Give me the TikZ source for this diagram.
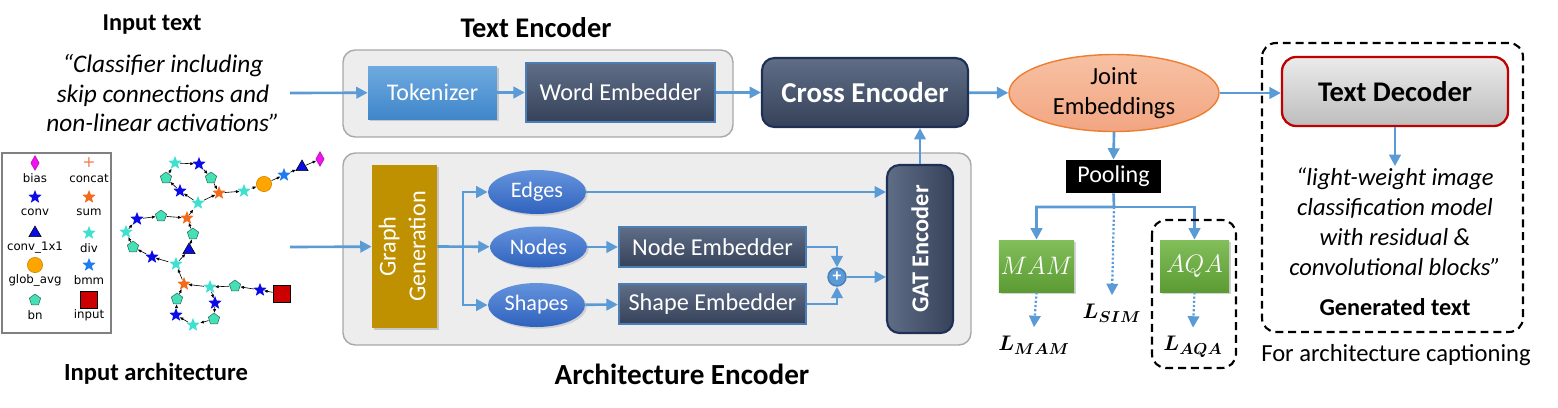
\documentclass[tikz,border=0pt]{standalone}
\usepackage{fontspec}
\setmainfont{Carlito}
\newfontfamily\legendfont{DejaVu Sans}
\usepackage{graphicx}
\usepackage{bm}
\usetikzlibrary{arrows.meta,shapes.geometric,shadows}
\tikzset{>={Triangle[length=6.5pt,width=6.5pt]}}

\definecolor{arrowblue}{HTML}{5B9BD5}
\definecolor{panelgray}{HTML}{EDEDED}
\definecolor{panelline}{HTML}{A8A8A8}
\definecolor{darktop}{HTML}{5F6D86}
\definecolor{darkbot}{HTML}{36425A}
\definecolor{embline}{HTML}{4A7EB5}
\definecolor{navyline}{HTML}{1F2F55}
\definecolor{toktop}{HTML}{6FAAE0}
\definecolor{tokbot}{HTML}{3F86CA}
\definecolor{ovaltop}{HTML}{6493DC}
\definecolor{ovalbot}{HTML}{2F62BE}
\definecolor{gold}{HTML}{BF9000}
\definecolor{jointtop}{HTML}{F7C1A3}
\definecolor{jointbot}{HTML}{F2A582}
\definecolor{jointline}{HTML}{ED7D31}
\definecolor{greentop}{HTML}{82BE5A}
\definecolor{greenbot}{HTML}{5C9B34}
\definecolor{dectop}{HTML}{EBEBEB}
\definecolor{decbot}{HTML}{BDBDBD}
\definecolor{decline}{HTML}{C00000}
% graph marker colours
\definecolor{cconv}{HTML}{0B0BE6}
\definecolor{cdiv}{HTML}{40E0D0}
\definecolor{csum}{HTML}{F26B1D}
\definecolor{cbn}{HTML}{45E0B5}
\definecolor{cbnline}{HTML}{2A6B5C}
\definecolor{cbmm}{HTML}{1F7BF2}
\definecolor{cglob}{HTML}{FFA500}
\definecolor{cglobline}{HTML}{C88000}
\definecolor{cbias}{HTML}{F012F0}
\definecolor{cinput}{HTML}{CC0000}
\definecolor{cconcat}{HTML}{F47A50}

\tikzset{
  flow/.style={->, draw=arrowblue, line width=1.5pt},
  dotflow/.style={->, draw=arrowblue, line width=1.3pt, dash pattern=on 1.2pt off 1.2pt},
  panel/.style={fill=panelgray, draw=panelline, line width=0.8pt, rounded corners=7pt},
  dashbox/.style={draw, line width=1.2pt, rounded corners=8pt, dash pattern=on 4.5pt off 2.8pt},
  title/.style={font=\bfseries\fontsize{16.2}{19}\selectfont},
  headtxt/.style={font=\bfseries\fontsize{13.8}{16}\selectfont},
  plaintxt/.style={font=\fontsize{14}{16}\selectfont},
  quote/.style={font=\itshape\fontsize{14.4}{17}\selectfont, align=center, inner sep=1pt},
  tokbox/.style={rectangle, top color=toktop, bottom color=tokbot, text=white,
    font=\fontsize{13.6}{16}\selectfont, minimum width=2.58cm, minimum height=1.06cm,
    drop shadow={opacity=0.35, shadow xshift=1.2pt, shadow yshift=-1.2pt}},
  embbox/.style={rectangle, top color=darktop, bottom color=darkbot, draw=embline,
    line width=1.3pt, text=white, font=\fontsize{13.8}{16}\selectfont},
  encbox/.style={rectangle, rounded corners=7pt, top color=darktop, bottom color=darkbot,
    draw=navyline, line width=1.2pt, text=white},
  ovalbox/.style={ellipse, top color=ovaltop, bottom color=ovalbot, text=white, inner sep=0pt,
    font=\fontsize{12.6}{15}\selectfont,
    drop shadow={opacity=0.25, shadow xshift=1pt, shadow yshift=-1pt}},
  greenbox/.style={rectangle, top color=greentop, bottom color=greenbot, text=white, inner sep=1pt,
    minimum width=1.5cm, minimum height=1.04cm, font=\fontsize{14}{17}\selectfont,
    drop shadow={opacity=0.35, shadow xshift=1.2pt, shadow yshift=-1.2pt}},
  loss/.style={font=\fontsize{13}{15}\selectfont, inner sep=1pt, outer sep=4pt},
  % graph markers
  mconv/.style={star, star points=5, star point ratio=2.3, fill=cconv, minimum size=8pt, inner sep=0pt},
  mdiv/.style={mconv, fill=cdiv},
  msum/.style={mconv, fill=csum},
  mbmm/.style={mconv, fill=cbmm},
  mbn/.style={regular polygon, regular polygon sides=5, fill=cbn, draw=cbnline, line width=0.3pt, minimum size=6.8pt, inner sep=0pt},
  mcvone/.style={regular polygon, regular polygon sides=3, fill=cconv, draw=black, line width=0.3pt, minimum size=8pt, inner sep=0pt},
  mglob/.style={circle, fill=cglob, draw=cglobline, line width=0.3pt, minimum size=8.7pt, inner sep=0pt},
  mbias/.style={diamond, fill=cbias, draw=cbias!70!black, line width=0.3pt, minimum width=4.8pt, minimum height=8.4pt, inner sep=0pt},
  minput/.style={rectangle, fill=cinput, draw=black, line width=0.5pt, minimum size=9.6pt, inner sep=0pt},
  gedge/.style={-{Latex[length=2.2pt,width=1.8pt]}, line width=0.35pt, shorten <=0.3pt},
  legtxt/.style={font=\legendfont\fontsize{6.7}{8}\selectfont, inner sep=0pt}
}

\begin{document}
\begin{tikzpicture}[x=0.02cm,y=-0.02cm]
\useasboundingbox (0,0) rectangle (1558,407);

% encoder panels
\draw[panel] (343,50) rectangle (733,137);
\draw[panel] (343,153) rectangle (971,345);
\node[title] (tenctitle) at (536,28) {Text Encoder};
\node[title,font=\bfseries\fontsize{16.6}{19}\selectfont] (aenctitle) at (682,374) {Architecture Encoder};

% input text
\node[headtxt] (intitle) at (152,25) {Input text};
\node[quote] (inquote) at (163,93) {“Classifier including\\skip connections and\\non-linear activations”};
\coordinate (txtin) at (290,93);

% text encoder
\node[tokbox] (tok) at (432.5,92.5) {Tokenizer};
\node[embbox, minimum width=3.78cm, minimum height=1.18cm] (wemb) at (620.5,92.5) {Word Embedder};
\node[encbox, minimum width=4.12cm, minimum height=1.38cm, font=\bfseries\fontsize{16.4}{19}\selectfont] (cross) at (865,92.5) {Cross Encoder};

\draw[flow] (txtin) -- (tok);
\draw[flow] (tok) -- (wemb);
\draw[flow] (wemb) -- (cross);

% architecture encoder
\node[rectangle, fill=gold, text=white, minimum width=1.3cm, minimum height=3.26cm, inner sep=0pt,
  font=\fontsize{13.8}{17}\selectfont,
  drop shadow={opacity=0.35, shadow xshift=1.2pt, shadow yshift=-1.2pt}]
  (gg) at (404.5,246.5) {\rotatebox{90}{\begin{tabular}{@{}c@{}}Graph\\Generation\end{tabular}}};
\node[ovalbox, minimum width=1.96cm, minimum height=0.88cm] (edges) at (537,192) {Edges};
\node[ovalbox, minimum width=1.94cm, minimum height=0.82cm] (nodes) at (538.5,247) {Nodes};
\node[ovalbox, minimum width=1.94cm, minimum height=0.88cm] (shapes) at (536.5,305) {Shapes};
\node[embbox, minimum width=3.74cm, minimum height=0.8cm] (nemb) at (712.5,247) {Node Embedder};
\node[embbox, minimum width=3.74cm, minimum height=0.8cm] (semb) at (712.5,304) {Shape Embedder};
\node[circle, fill=arrowblue, draw=embline, line width=0.8pt, minimum size=0.36cm, inner sep=0pt,
  text=white, font=\bfseries\fontsize{10}{10}\selectfont] (plus) at (837,277) {+};
\node[encbox, left color=darktop, right color=darkbot, minimum width=1.32cm, minimum height=3.36cm,
  inner sep=0pt, font=\bfseries\fontsize{13.8}{16}\selectfont] (gat) at (920,249) {\rotatebox{90}{GAT Encoder}};
\coordinate (archin) at (290,247);
\coordinate (split) at (463,247);

\draw[flow] (archin) -- (gg);
\draw[flow] (gg.east) -- (nodes);
\draw[flow] (split) |- (edges);
\draw[flow] (split) |- (shapes);
\draw[flow] (nodes) -- (nemb);
\draw[flow] (shapes) -- (semb);
\draw[flow] (nemb.east) -| (plus.north);
\draw[flow] (semb.east) -| (plus.south);
\draw[flow] (plus.east) -- (plus.east -| gat.west);
\draw[flow] (edges.east) -- (edges.east -| gat.west);
\draw[flow] (gat.north) -- (gat.north |- cross.south);

% joint embeddings and pre-training heads
\node[ellipse, top color=jointtop, bottom color=jointbot, draw=jointline, line width=0.8pt,
  minimum width=4.2cm, minimum height=1.54cm, align=center, inner sep=0pt,
  font=\fontsize{14}{17}\selectfont] (joint) at (1114,93) {Joint\\Embeddings};
\node[rectangle, fill=black, text=white, minimum width=1.9cm, minimum height=0.66cm, inner sep=0pt,
  font=\fontsize{13.7}{16}\selectfont] (pool) at (1113.5,176.5) {Pooling};
\node[greenbox] (mam) at (1036.5,266) {$MAM$};
\node[greenbox, minimum width=1.38cm] (aqa) at (1194.5,266) {$AQA$};
\node[loss] (lmam) at (1034,345) {$\bm{L_{MAM}}$};
\node[loss] (lsim) at (1112,313) {$\bm{L_{SIM}}$};
\node[loss] (laqa) at (1193,347) {$\bm{L_{AQA}}$};
\coordinate (poolsplit) at (1114,207);

\draw[flow] (cross) -- (joint);
\draw[flow] (joint.south) -- (pool.north);
\draw[flow] (pool.south) -- (poolsplit) -| (mam.north);
\draw[flow] (poolsplit) -| (aqa.north);
\draw[dotflow] (poolsplit) -- (lsim.north);
\draw[dotflow] (mam.south) -- (lmam.north);
\draw[dotflow] (aqa.south) -- (laqa.north);
\draw[dashbox] (1152,220) rectangle (1236,368);

% text decoder
\draw[dashbox] (1262,43) rectangle (1523,332);
\node[rectangle, rounded corners=8pt, top color=dectop, bottom color=decbot, draw=decline, line width=1.3pt,
  minimum width=4.52cm, minimum height=1.38cm, font=\bfseries\fontsize{16.2}{19}\selectfont]
  (dec) at (1395,91.5) {Text Decoder};
\node[quote, font=\itshape\fontsize{14}{17}\selectfont] (genquote) at (1395,222)
  {“light-weight image\\classification model\\with residual \&\\convolutional blocks”};
\node[headtxt] (gentitle) at (1395,307) {Generated text};
\node[plaintxt] (capnote) at (1396,355) {For architecture captioning};

\draw[flow] (joint.east) -- (joint.east -| dec.west);
\draw[flow] (dec.south) -- (genquote.north);

% input architecture
\node[headtxt,font=\bfseries\fontsize{14}{16}\selectfont] (archtitle) at (156,374) {Input architecture};
\draw[draw=gray, line width=1.1pt] (2,153) rectangle (111,333);
\foreach \s/\lab/\x/\y in {mbias/bias/35/163, mconv/conv/35/197, mcvone/conv\_1x1/35/233,
    mglob/glob\_avg/35/265, mbn/bn/35/300, msum/sum/89/197, mdiv/div/89/233,
    mbmm/bmm/89/265, minput/input/89/300}{
  \node[style=\s] (l\s) at (\x,\y) {};
  \node[legtxt] (t\s) at (\x,\y+15) {\lab};
}
\node[text=cconcat, inner sep=0pt, font=\legendfont\fontsize{9}{9}\selectfont] (lconcat) at (89,163) {+};
\node[legtxt] (tconcat) at (89,178) {concat};

\foreach \i/\s/\x/\y in {1/mdiv/175/163, 2/mconv/199/164, 3/mbn/166/178, 4/mbn/211/178,
    5/mconv/180/191, 6/msum/219/193, 7/mdiv/244/191, 8/mglob/264/184, 9/mbmm/284/175,
    10/mcvone/302/167, 11/mbias/320/159, 12/mdiv/198/203, 13/mconv/137/219, 14/mbn/161/216,
    15/msum/187/218, 16/mdiv/126/232, 17/mbn/193/234, 18/mbn/133/247, 19/mcvone/189/250,
    20/mconv/152/257, 21/mdiv/176/264, 22/msum/184/284, 23/mdiv/210/287, 24/mbn/235/286,
    25/mconv/260/290, 26/minput/282/294, 27/mbn/177/299, 28/mconv/215/303, 29/mconv/176/315,
    30/mbn/214/319, 31/mdiv/193/325}
  \node[style=\s] (g\i) at (\x,\y) {};
\foreach \a/\b in {26/25, 25/24, 24/23, 23/22, 23/28, 28/30, 30/31, 31/29, 29/27, 27/22,
    22/21, 21/20, 20/18, 18/16, 16/13, 13/14, 14/15, 21/19, 19/17, 17/15, 15/12,
    12/5, 5/3, 3/1, 1/2, 2/4, 4/6, 12/6, 6/7, 7/8, 8/9, 9/10, 10/11}
  \draw[gedge] (g\a) -- (g\b);

\end{tikzpicture}
\end{document}
